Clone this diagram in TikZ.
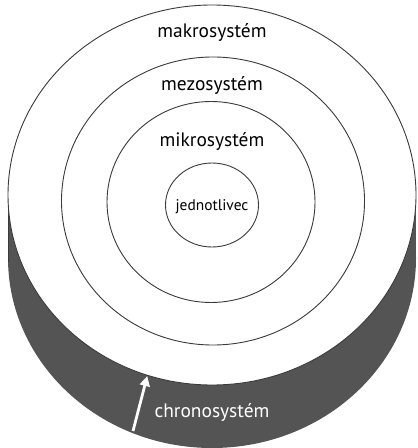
\documentclass[tikz,border=0pt]{standalone}
\usepackage{fontspec}
\setmainfont{PT Sans}
\usepackage{tikz}
\usetikzlibrary{arrows.meta}

\definecolor{sidegray}{HTML}{545454}
\definecolor{ringline}{HTML}{3A3A3A}

\begin{document}
\begin{tikzpicture}[x=1bp, y=-1bp, >={Triangle[width=10bp, length=10bp]},
  ring/.style={draw=ringline, line width=0.9bp},
  side/.style={fill=sidegray},
  lbl/.style={font=\fontsize{19.5}{22}\selectfont, inner sep=1pt},
  small/.style={font=\fontsize{15.5}{18}\selectfont, inner sep=1pt},
  arr/.style={->, white, line width=2.8bp, shorten >=-1bp}]
  \useasboundingbox (0,0) rectangle (417,448);
  % side of the cylinder
  \fill[side] (8,195) rectangle (416,258);
  \fill[side] (212,258) ellipse [x radius=204, y radius=190];
  \draw[ring] (8,195) -- (8,262);
  % top face and rings
  \filldraw[ring, fill=white] (212,195) ellipse [x radius=204, y radius=190];
  \draw[ring] (213,201) ellipse [x radius=151.5, y radius=144];
  \draw[ring] (211,202) ellipse [x radius=104, y radius=100.5];
  \draw[ring] (212,205) ellipse [x radius=46.5, y radius=42];
  \node[lbl] (makro) at (212,33)  {makrosystém};
  \node[lbl] (mezo)  at (212,85)  {mezosystém};
  \node[lbl] (mikro) at (212,141) {mikrosystém};
  \node[small] (jedn) at (212,207) {jednotlivec};
  \node[lbl, text=white] (chrono) at (212,412) {chronosystém};
  \coordinate (tail) at (133,431);
  \coordinate (tip)  at (147,377);
  \draw[arr] (tail) -- (tip);
\end{tikzpicture}
\end{document}
